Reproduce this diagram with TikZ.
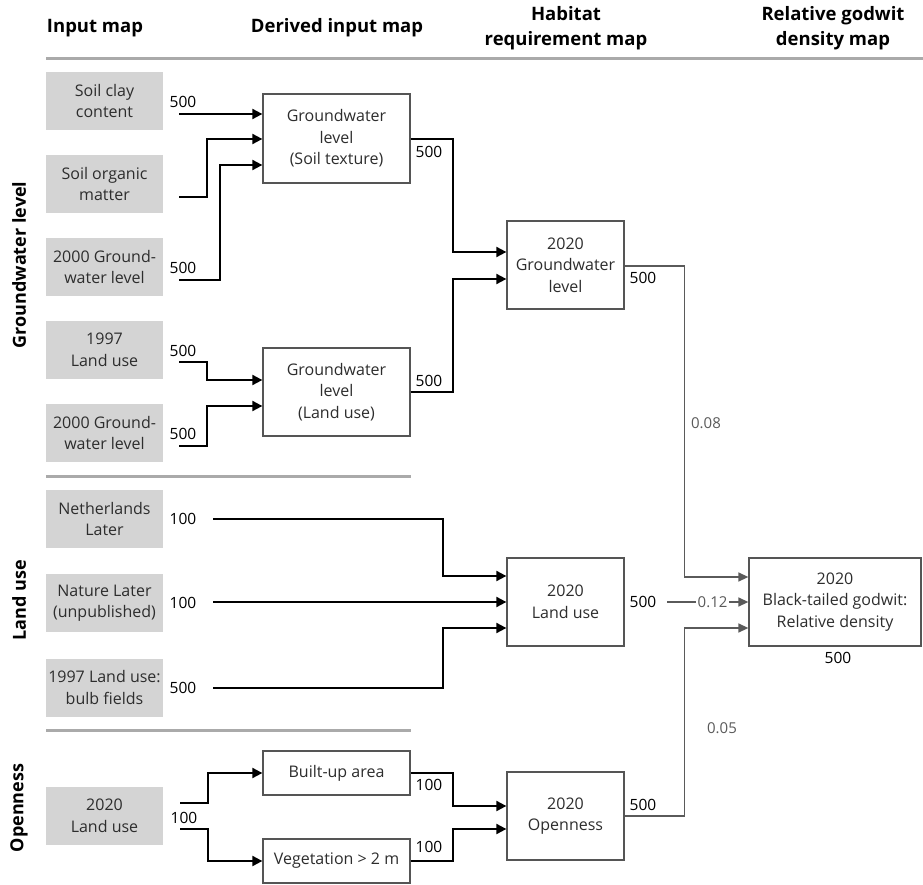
\documentclass[tikz,border=0pt]{standalone}
\usepackage{fontspec}
\setmainfont{Open Sans}
\usetikzlibrary{arrows.meta,calc}
\definecolor{inbox}{RGB}{212,212,212}
\definecolor{txt}{RGB}{45,45,45}
\definecolor{edge}{RGB}{85,85,85}
\definecolor{sep}{RGB}{170,170,170}
\definecolor{garrow}{RGB}{90,90,90}
\begin{document}
\begin{tikzpicture}[x=1pt,y=-1pt,
  every node/.style={font=\fontsize{16}{21.5}\selectfont, text=txt},
  inputbox/.style={fill=inbox, draw=none, minimum width=117pt, minimum height=58pt, align=center, inner sep=0pt},
  derbox/.style={draw=edge, line width=1.3pt, fill=white, minimum width=147pt, align=center, inner sep=0pt},
  habbox/.style={draw=edge, line width=1.3pt, fill=white, minimum width=117pt, minimum height=88pt, align=center, inner sep=0pt},
  arr/.style={line width=2pt, black, -{Triangle[length=10pt,width=10pt]}},
  garr/.style={line width=1.4pt, garrow, -{Triangle[length=10pt,width=9pt]}},
  num/.style={font=\fontsize{15.5}{17}\selectfont, text=black, inner sep=0pt},
  wt/.style={font=\fontsize{15}{17}\selectfont, text=garrow, inner sep=0pt},
  head/.style={font=\bfseries\fontsize{18.5}{25}\selectfont, text=black, align=center, inner sep=0pt},
  sect/.style={font=\bfseries\fontsize{18}{20}\selectfont, text=black, rotate=90, inner sep=0pt},
  sepline/.style={line width=3pt, sep}
]
\useasboundingbox (0,0) rectangle (923,885);

% headers
\node[head] (h1) at (95,28) {Input map};
\node[head] (h2) at (337,28) {Derived input map};
\node[head] (h3) at (566,28) {Habitat\\requirement map};
\node[head] (h4) at (833,28) {Relative godwit\\density map};
\coordinate (hl1) at (46,59);
\coordinate (hl2) at (923,59);
\draw[sepline] (hl1) -- (hl2);
\coordinate (s1a) at (46,476);
\coordinate (s1b) at (411,476);
\draw[sepline] (s1a) -- (s1b);
\coordinate (s2a) at (46,730);
\coordinate (s2b) at (411,730);
\draw[sepline] (s2a) -- (s2b);

% section labels
\node[sect] (secgw) at (19,265) {Groundwater level};
\node[sect] (seclu) at (19,600) {Land use};
\node[sect] (secop) at (19,808) {Openness};

% input boxes
\node[inputbox] (clay) at (104.5,101) {Soil clay\\content};
\node[inputbox] (org) at (104.5,184) {Soil organic\\matter};
\node[inputbox] (gwa) at (104.5,267) {2000 Ground-\\water level};
\node[inputbox] (lua) at (104.5,350) {1997\\Land use};
\node[inputbox] (gwb) at (104.5,433) {2000 Ground-\\water level};
\node[inputbox] (nl) at (104.5,519) {Netherlands\\Later};
\node[inputbox] (nat) at (104.5,603) {Nature Later\\(unpublished)};
\node[inputbox] (bulb) at (104.5,687.5) {1997 Land use:\\bulb fields};
\node[inputbox] (luc) at (104.5,816) {2020\\Land use};

% derived boxes
\node[derbox, minimum height=89pt] (soil) at (336.5,138.5) {Groundwater\\level\\(Soil texture)};
\node[derbox, minimum height=88pt] (gwlu) at (336.5,392) {Groundwater\\level\\(Land use)};
\node[derbox, minimum height=44pt] (built) at (336.5,773) {Built-up area};
\node[derbox, minimum height=44pt] (veg) at (336.5,861) {Vegetation > 2 m};

% habitat boxes
\node[habbox] (hgw) at (565.5,265) {2020\\Groundwater\\level};
\node[habbox] (hlu) at (565.5,602) {2020\\Land use};
\node[habbox] (hop) at (565.5,816) {2020\\Openness};

% godwit
\node[draw=edge, line width=1.3pt, fill=white, minimum width=172pt, minimum height=88pt, align=center, inner sep=0pt] (god) at (835,602) {2020\\Black-tailed godwit:\\Relative density};

% start coordinates of input connectors
\coordinate (oclay) at (179,114);
\coordinate (oorg) at (179,197);
\coordinate (ogwa) at (179,280);
\coordinate (olua) at (179,362);
\coordinate (ogwb) at (179,446);
\coordinate (onl) at (213,519);
\coordinate (onat) at (213,602);
\coordinate (obulb) at (213,688);
\coordinate (oluu) at (180,803);
\coordinate (olul) at (180,829);
\coordinate (ohlu) at (667,602);

% black connectors
\draw[arr] (oclay) -- ([yshift=24.5pt]soil.west);
\draw[arr] (oorg) -- ++(28,0) |- ([yshift=-0.5pt]soil.west);
\draw[arr] (ogwa) -- ++(41,0) |- ([yshift=-26.5pt]soil.west);
\draw[arr] ([yshift=-0.5pt]soil.east) -- ++(42,0) |- ([yshift=13pt]hgw.west);
\draw[arr] (olua) -- ++(28,0) |- ([yshift=12pt]gwlu.west);
\draw[arr] (ogwb) -- ++(28,0) |- ([yshift=-14pt]gwlu.west);
\draw[arr] (gwlu.east) -- ++(42,0) |- ([yshift=-14pt]hgw.west);
\draw[arr] (onl) -- ++(230,0) |- ([yshift=26pt]hlu.west);
\draw[arr] (onat) -- (hlu.west);
\draw[arr] (obulb) -- ++(230,0) |- ([yshift=-26pt]hlu.west);
\draw[arr] (oluu) -- ++(28,0) |- (built.west);
\draw[arr] (olul) -- ++(28,0) |- (veg.west);
\draw[arr] (built.east) -- ++(42,0) |- ([yshift=10pt]hop.west);
\draw[arr] (veg.east) -- ++(42,0) |- ([yshift=-13pt]hop.west);

% grey connectors
\draw[garr] ([yshift=-1pt]hgw.east) -- ++(60,0) |- ([yshift=25pt]god.west);
\draw[garr] (ohlu) -- node[wt, pos=0.56, fill=white, inner xsep=2pt] (w12) {0.12} (god.west);
\draw[garr] (hop.east) -- ++(60,0) |- ([yshift=-26pt]god.west);

% numbers
\node[num] (n1) at (183,102) {500};
\node[num] (n2) at (183,268) {500};
\node[num] (n3) at (429,152) {500};
\node[num] (n4) at (183,351) {500};
\node[num] (n5) at (183,434) {500};
\node[num] (n6) at (429,381) {500};
\node[num] (n7) at (643,278) {500};
\node[num] (n8) at (183,519) {100};
\node[num] (n9) at (183,603) {100};
\node[num] (n10) at (183,688) {500};
\node[num] (n11) at (184,818) {100};
\node[num] (n12) at (429,785) {100};
\node[num] (n13) at (429,847) {100};
\node[num] (n14) at (643,805) {500};
\node[num] (n15) at (643,602) {500};
\node[num] (n16) at (838,658) {500};
\node[wt] (w08) at (706,423) {0.08};
\node[wt] (w05) at (722,728) {0.05};
\end{tikzpicture}
\end{document}
